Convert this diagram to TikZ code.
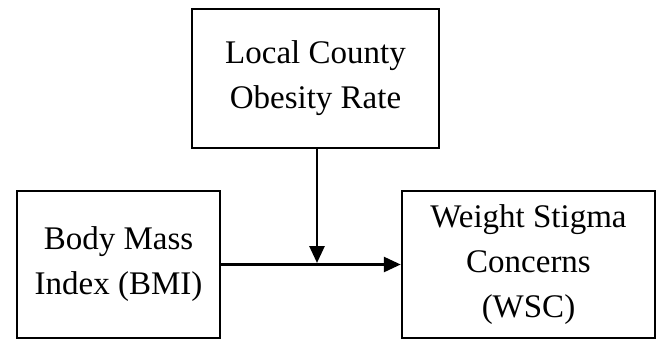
\documentclass[tikz,border=0pt]{standalone}
\usepackage{fontspec}
\setmainfont{Liberation Serif}
\usetikzlibrary{arrows.meta}
\begin{document}
\begin{tikzpicture}[x=1pt,y=-1pt,
  varbox/.style={draw=black,line width=2.5pt,inner sep=0pt,align=center,
    font=\fontsize{33}{45}\selectfont},
  link/.style={line width=2.8pt,-{Triangle[length=17pt,width=15pt]}}]
\useasboundingbox (0,0) rectangle (659,340);
\node[varbox,minimum width=247pt,minimum height=139pt] (cor) at (315.5,78.5) {Local County\\Obesity Rate};
\node[varbox,minimum width=203pt,minimum height=147pt] (bmi) at (118.5,264.5) {Body Mass\\Index (BMI)};
\node[varbox,minimum width=253pt,minimum height=147pt] (wsc) at (528.5,264.5) {Weight Stigma\\Concerns\\(WSC)};
\coordinate (m) at (317,263);
\draw[link] (bmi) -- (wsc);
\draw[link] (cor.south -| m) -- (m);
\end{tikzpicture}
\end{document}
